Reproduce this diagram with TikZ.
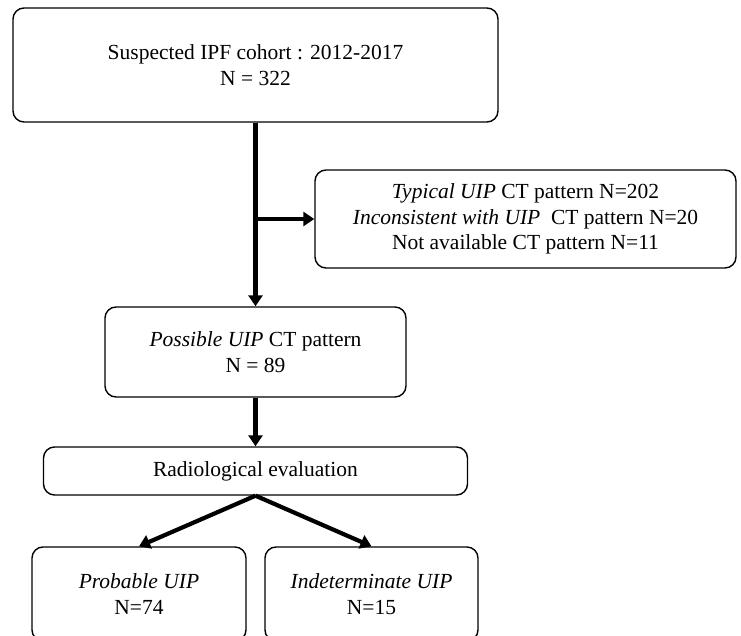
\documentclass[tikz,border=0pt]{standalone}
\usepackage{fontspec}
\setmainfont{Liberation Serif}
\usetikzlibrary{arrows.meta}

\tikzset{
  flowbox/.style={draw, line width=1.4pt, rounded corners=11pt, align=center, inner sep=0pt,
    font=\fontsize{21.5}{25.5}\selectfont},
  thickarrow/.style={line width=4.2pt, -{Triangle[width=14pt,length=11pt]}}
}

\begin{document}
\begin{tikzpicture}[x=1pt,y=-1pt]
		\useasboundingbox (0,0) rectangle (741,636);
		\clip (0,0) rectangle (741,636);
		\node[flowbox, minimum width=485pt, minimum height=114pt] (cohort) at (255.5,65) {Suspected IPF cohort : 2012-2017 \\ N = 322};
		\node[flowbox, minimum width=421pt, minimum height=98pt] (excluded) at (525.5,219) {\textit{Typical UIP} CT pattern N=202 \\ \textit{Inconsistent with UIP}\ \ CT pattern N=20 \\ Not available CT pattern N=11};
		\node[flowbox, minimum width=301pt, minimum height=90pt] (possible) at (255.5,352) {\textit{Possible UIP} CT pattern \\ N = 89};
		\node[flowbox, minimum width=424pt, minimum height=48pt] (radio) at (255.5,471) {Radiological evaluation};
		\node[flowbox, minimum width=214pt, minimum height=94pt] (probable) at (139,594) {\textit{Probable UIP} \\ N=74};
		\node[flowbox, minimum width=213pt, minimum height=94pt] (indet) at (371.5,594) {\textit{Indeterminate UIP} \\ N=15};
		\coordinate (split) at (cohort.south |- excluded.west);
		\draw[thickarrow] (cohort.south) -- (possible.north);
		\draw[thickarrow] (split) -- (excluded.west);
		\draw[thickarrow] (possible.south) -- (radio.north);
		\draw[thickarrow] (radio.south) -- (probable.north);
		\draw[thickarrow] (radio.south) -- (indet.north);
	\end{tikzpicture}
\end{document}
